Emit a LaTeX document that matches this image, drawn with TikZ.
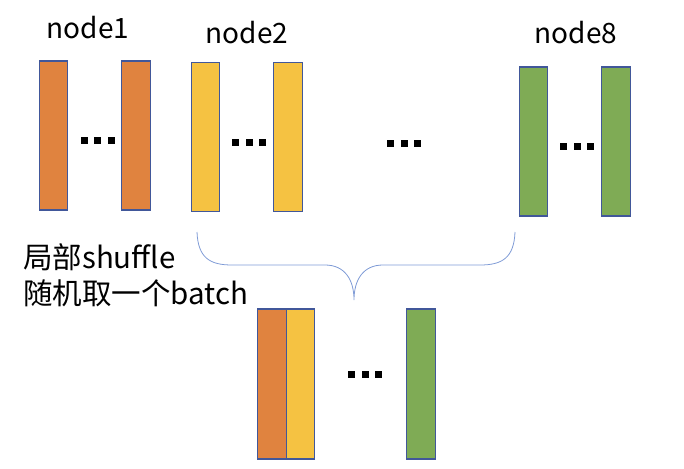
\documentclass[tikz,border=0pt]{standalone}
\usepackage{fontspec}
\setmainfont{Noto Sans CJK SC}
\definecolor{bord}{HTML}{41579A}
\definecolor{orng}{HTML}{E0833F}
\definecolor{yllw}{HTML}{F5C242}
\definecolor{grn}{HTML}{7FAB55}
\definecolor{brc}{HTML}{7F9BD6}
\tikzset{
  bar/.style={draw=bord, line width=1.3pt, minimum width=28.5pt, minimum height=149pt, inner sep=0pt, outer sep=0pt},
  lbl/.style={font=\fontsize{28}{32}\selectfont, inner sep=0pt},
  txt/.style={font=\fontsize{29.5}{34}\selectfont, inner sep=0pt, anchor=west},
}
\newcommand{\threedots}[2]{%
  \foreach \k in {-1,0,1}{\fill ([xshift={\k*13.5pt-3.5pt}, yshift=-3.5pt]#1) rectangle ++(7pt,7pt);}}
\begin{document}
\begin{tikzpicture}[x=1pt,y=-1pt]
\useasboundingbox (0,0) rectangle (684,468);
% top bars
\node[bar, fill=orng] (n1a) at (53.5,135.5) {};
\node[bar, fill=orng] (n1b) at (136,135.5) {};
\node[bar, fill=yllw] (n2a) at (205.5,137) {};
\node[bar, fill=yllw] (n2b) at (288,137) {};
\node[bar, fill=grn] (n8a) at (533.5,141.5) {};
\node[bar, fill=grn] (n8b) at (616,141.5) {};
% labels
\node[lbl] (l1) at (88,28) {node1};
\node[lbl] (l2) at (247,33) {node2};
\node[lbl] (l8) at (576,33) {node8};
% dots
\coordinate (d1) at (97.5,140);
\coordinate (d2) at (249,142);
\coordinate (d3) at (404,143);
\coordinate (d4) at (577,146);
\coordinate (d5) at (365,374);
\foreach \c in {d1,d2,d3,d4,d5}{\threedots{\c}{}}
% brace
\coordinate (bl) at (197,232);
\coordinate (br) at (515,232);
\coordinate (bt) at (354,300);
\draw[brc, line width=0.8pt] (bl) .. controls (198,258) and (210,265) .. (232,265)
  -- (325,265) .. controls (345,265) and (354,280) .. (bt)
  .. controls (354,280) and (363,265) .. (383,265)
  -- (480,265) .. controls (502,265) and (514,258) .. (br);
% text
\node[txt] (t1) at (23,257) {局部shuffle};
\node[txt] (t2) at (23,293) {随机取一个batch};
% bottom bars
\node[bar, fill=orng, minimum height=150pt] (b1) at (272,384) {};
\node[bar, fill=yllw, minimum height=150pt] (b2) at (300.5,384) {};
\node[bar, fill=grn, minimum height=150pt] (b3) at (421,384) {};
\end{tikzpicture}
\end{document}
